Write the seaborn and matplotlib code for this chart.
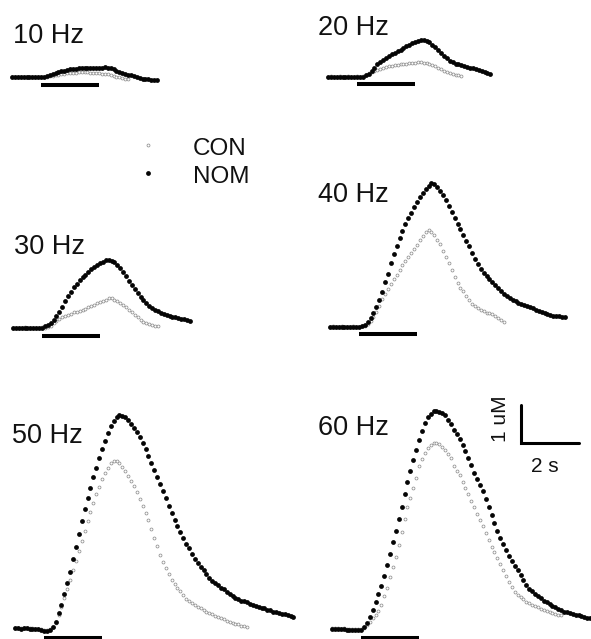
import numpy as np
import pandas as pd
import matplotlib
matplotlib.use('Agg')
import matplotlib.pyplot as plt
import seaborn as sns

# Sampling interval of the Ca2+ traces (s) and stimulus window (s)
DT = 0.1
STIM_ON, STIM_OFF = 1.0, 3.0

# Traces in uM above baseline, one value every DT seconds
nom_10 = [0.01, 0.00, 0.01, 0.00, 0.00, 0.01, 0.00, 0.00, 0.01, 0.00, 0.00, 0.01,
          0.02, 0.05, 0.08, 0.10, 0.13, 0.15, 0.17, 0.19, 0.20, 0.21, 0.22, 0.23, 0.23,
          0.24, 0.24, 0.24, 0.25, 0.25, 0.25, 0.25, 0.26, 0.25, 0.23, 0.20, 0.17, 0.14,
          0.11, 0.08, 0.06, 0.04, 0.02, 0.00, -0.02, -0.04, -0.05, -0.06, -0.07, -0.08, -0.08]
con_10 = [0.00, 0.01, 0.00, 0.00, 0.01, 0.00, 0.00, 0.01, 0.00, 0.00, 0.01, 0.00, 0.01,
          0.02, 0.03, 0.05, 0.06, 0.08, 0.09, 0.10, 0.10, 0.11, 0.11, 0.12, 0.12, 0.12,
          0.12, 0.11, 0.11, 0.11, 0.10, 0.09, 0.08, 0.07, 0.05, 0.03, 0.01, -0.01, -0.02,
          -0.04, -0.05]

nom_20 = [0.00, -0.01, 0.00, 0.00, -0.01, 0.00, 0.00, 0.01, 0.00, -0.01, 0.00, 0.00, 0.01,
          0.04, 0.09, 0.17, 0.25, 0.33, 0.39, 0.45, 0.51, 0.55, 0.60, 0.64, 0.68, 0.72,
          0.77, 0.81, 0.85, 0.89, 0.93, 0.96, 0.97, 0.97, 0.95, 0.91, 0.85, 0.78, 0.71,
          0.64, 0.56, 0.49, 0.43, 0.39, 0.35, 0.33, 0.31, 0.29, 0.27, 0.25, 0.23, 0.21,
          0.19, 0.16, 0.13, 0.10, 0.08]
con_20 = [0.01, 0.02, 0.01, 0.01, 0.02, 0.01, 0.01, 0.02, 0.01, 0.01, 0.02, 0.01, 0.02,
          0.06, 0.10, 0.13, 0.16, 0.19, 0.22, 0.24, 0.26, 0.28, 0.30, 0.31, 0.32, 0.33,
          0.34, 0.35, 0.36, 0.37, 0.38, 0.39, 0.39, 0.38, 0.36, 0.34, 0.31, 0.28, 0.25,
          0.21, 0.17, 0.14, 0.11, 0.08, 0.06, 0.04, 0.02]

nom_30 = [0.00, -0.01, 0.00, 0.01, 0.00, -0.01, 0.00, 0.00, -0.01, 0.00, 0.01,
          0.05, 0.09, 0.14, 0.21, 0.31, 0.43, 0.56, 0.70, 0.84, 0.96, 1.07, 1.17, 1.26,
          1.33, 1.40, 1.47, 1.54, 1.60, 1.66, 1.71, 1.75, 1.78, 1.79, 1.77, 1.73, 1.66,
          1.58, 1.48, 1.37, 1.25, 1.13, 1.02, 0.92, 0.82, 0.73, 0.66, 0.59, 0.53, 0.48,
          0.44, 0.40, 0.37, 0.34, 0.32, 0.30, 0.29, 0.27, 0.25, 0.23, 0.21, 0.19]
con_30 = [0.01, 0.01, 0.00, 0.01, 0.02, 0.01, 0.01, 0.00, 0.01, 0.01, 0.02, 0.01, 0.02,
          0.06, 0.12, 0.18, 0.24, 0.28, 0.32, 0.35, 0.38, 0.41, 0.43, 0.46, 0.48, 0.51,
          0.54, 0.57, 0.61, 0.65, 0.69, 0.72, 0.75, 0.78, 0.78, 0.75, 0.71, 0.66, 0.61,
          0.54, 0.48, 0.41, 0.34, 0.28, 0.22, 0.17, 0.14, 0.11, 0.08, 0.06, 0.04]

nom_40 = [0.00, 0.01, 0.00, 0.00, 0.01, 0.00, -0.01, 0.00, 0.01, 0.00, 0.01, 0.02,
          0.05, 0.12, 0.25, 0.36, 0.52, 0.72, 0.92, 1.18, 1.40, 1.68, 1.92, 2.14, 2.33,
          2.52, 2.70, 2.86, 3.00, 3.16, 3.29, 3.41, 3.52, 3.63, 3.72, 3.78, 3.76, 3.68,
          3.58, 3.48, 3.34, 3.19, 3.03, 2.87, 2.72, 2.57, 2.42, 2.27, 2.12, 1.96, 1.80,
          1.65, 1.53, 1.43, 1.34, 1.26, 1.18, 1.10, 1.02, 0.95, 0.88, 0.82, 0.77, 0.72,
          0.68, 0.64, 0.61, 0.58, 0.55, 0.52, 0.49, 0.46, 0.43, 0.40, 0.36, 0.34, 0.32,
          0.30, 0.29, 0.28, 0.27, 0.26]
con_40 = [0.01, 0.02, 0.01, 0.01, 0.02, 0.01, 0.00, 0.01, 0.02, 0.01, 0.01, 0.02, 0.03,
          0.08, 0.15, 0.26, 0.40, 0.56, 0.74, 0.88, 1.00, 1.13, 1.26, 1.38, 1.50, 1.62,
          1.73, 1.84, 1.95, 2.06, 2.17, 2.28, 2.40, 2.50, 2.55, 2.50, 2.42, 2.30, 2.18,
          2.00, 1.84, 1.68, 1.50, 1.32, 1.15, 1.02, 0.94, 0.82, 0.70, 0.61, 0.54, 0.49,
          0.45, 0.41, 0.38, 0.36, 0.33, 0.28, 0.23, 0.18, 0.14]

nom_50 = [0.02, 0.02, 0.01, 0.02, 0.02, 0.01, 0.01, 0.00, 0.00, -0.02, -0.04, -0.05, -0.03,
          0.06, 0.19, 0.41, 0.63, 0.92, 1.20, 1.51, 1.83, 2.17, 2.50, 2.85, 3.16, 3.44,
          3.72, 3.99, 4.25, 4.49, 4.73, 4.96, 5.15, 5.34, 5.48, 5.58, 5.63,
          5.61, 5.58, 5.51, 5.39, 5.29, 5.19, 5.04, 4.89, 4.73, 4.55, 4.36, 4.18, 4.00,
          3.82, 3.63, 3.44, 3.24, 3.04, 2.87, 2.72, 2.55, 2.39, 2.25, 2.12, 1.97, 1.85,
          1.75, 1.64, 1.54, 1.46, 1.35, 1.27, 1.22, 1.15, 1.09, 1.04, 0.98, 0.92, 0.87,
          0.82, 0.78, 0.75, 0.73, 0.71, 0.67, 0.63, 0.61, 0.58, 0.55, 0.54, 0.51, 0.49,
          0.46, 0.44, 0.42, 0.40, 0.39, 0.36, 0.33, 0.31]
con_50 = [0.03, 0.03, 0.02, 0.03, 0.03, 0.02, 0.02, 0.01, 0.01, 0.00, -0.02, -0.03, -0.01,
          0.05, 0.17, 0.36, 0.58, 0.82, 1.06, 1.30, 1.55, 1.80, 2.06, 2.32, 2.58, 2.84,
          3.09, 3.32, 3.54, 3.75, 3.94, 4.11, 4.25, 4.36, 4.42,
          4.43, 4.36, 4.27, 4.15, 4.02, 3.90, 3.76, 3.60, 3.42, 3.24, 3.06, 2.88, 2.62,
          2.40, 2.18, 1.96, 1.76, 1.60, 1.45, 1.30, 1.18, 1.08, 1.00, 0.90, 0.80, 0.73,
          0.68, 0.62, 0.58, 0.54, 0.50, 0.46, 0.43, 0.39, 0.35, 0.32, 0.29, 0.26, 0.22,
          0.19, 0.16, 0.14, 0.12, 0.09, 0.07, 0.05]

nom_60 = [0.00, 0.01, 0.00, -0.01, -0.01, -0.02, -0.02, -0.03, -0.03, -0.03, -0.02,
          0.06, 0.17, 0.32, 0.50, 0.70, 0.91, 1.14, 1.40, 1.69, 1.98, 2.28, 2.58, 2.90,
          3.22, 3.55, 3.86, 4.15, 4.45, 4.72, 4.98, 5.22, 5.42, 5.57, 5.67, 5.73, 5.75,
          5.72, 5.68, 5.62, 5.51, 5.40, 5.25, 5.12, 5.00, 4.84, 4.69, 4.49, 4.31, 4.11,
          3.95, 3.79, 3.62, 3.42, 3.22, 3.00, 2.78, 2.58, 2.40, 2.23, 2.07, 1.92, 1.79,
          1.67, 1.55, 1.42, 1.29, 1.17, 1.06, 0.99, 0.93, 0.87, 0.81, 0.75, 0.70, 0.65,
          0.60, 0.57, 0.53, 0.49, 0.46, 0.44, 0.41, 0.39, 0.37, 0.36, 0.34, 0.32, 0.30, 0.28]
con_60 = [0.02, 0.03, 0.02, 0.01, 0.02, 0.01, 0.00, 0.01, 0.00, 0.00, 0.01, 0.03,
          0.10, 0.18, 0.28, 0.38, 0.48, 0.64, 0.86, 1.09, 1.36, 1.64, 1.90, 2.20, 2.55,
          2.90, 3.20, 3.45, 3.70, 3.98, 4.28, 4.48, 4.64, 4.76, 4.84, 4.89, 4.89, 4.86,
          4.80, 4.70, 4.60, 4.50, 4.30, 4.16, 4.04, 3.86, 3.70, 3.55, 3.38, 3.20, 3.02,
          2.86, 2.70, 2.52, 2.34, 2.17, 2.02, 1.86, 1.70, 1.56, 1.40, 1.24, 1.10, 0.98,
          0.90, 0.84, 0.78, 0.72, 0.68, 0.64, 0.60, 0.57, 0.53, 0.50, 0.48, 0.45, 0.42,
          0.40, 0.38, 0.36]

freq_labels = ['10 Hz', '20 Hz', '30 Hz', '40 Hz', '50 Hz', '60 Hz']
nom_traces = [nom_10, nom_20, nom_30, nom_40, nom_50, nom_60]
con_traces = [con_10, con_20, con_30, con_40, con_50, con_60]

# Scale bar values
SCALE_UM = 1.0
SCALE_S = 2.0

# ---------------------------------------------------------------- layout
W, H = 591, 639
PX_S = 29.0    # pixels per second
PX_UM = 38.0   # pixels per uM
# per panel: trace start x, baseline y, label x, label baseline y, stim bar offset (px)
layout = [
    (12, 77, 13, 43, 8),
    (328, 77, 318, 35, 7),
    (13, 328, 14, 254, 8),
    (330, 327, 318, 202, 7),
    (15, 629, 12, 443, 9),
    (332, 629, 318, 435, 9),
]

NOM_KW = dict(s=12, color='#050505', linewidth=0)
CON_KW = dict(s=4.5, color='white', edgecolor='#8f8f8f', linewidth=0.55)

sns.set_style('white')
plt.rcParams['font.family'] = ['Liberation Sans', 'DejaVu Sans']

fig = plt.figure(figsize=(W / 100, H / 100), dpi=100)
fig.patch.set_facecolor('white')

LEFT_PAD, RIGHT_SPAN, BOTTOM_PAD, TOP_SPAN = 12, 300, 14, 254

axes = []
for (xs, yb, lx, ly, boff), nom, con in zip(layout, nom_traces, con_traces):
    ax = fig.add_axes([(xs - LEFT_PAD) / W, (H - (yb + BOTTOM_PAD)) / H,
                       RIGHT_SPAN / W, TOP_SPAN / H])
    ax.patch.set_alpha(0)
    ax.set_xlim(-LEFT_PAD / PX_S, (RIGHT_SPAN - LEFT_PAD) / PX_S)
    ax.set_ylim(-BOTTOM_PAD / PX_UM, (TOP_SPAN - BOTTOM_PAD) / PX_UM)
    ax.set_axis_off()

    df = pd.DataFrame({'t': np.arange(len(con)) * DT, 'ca': con})
    sns.scatterplot(data=df, x='t', y='ca', ax=ax, zorder=2, legend=False, **CON_KW)
    df = pd.DataFrame({'t': np.arange(len(nom)) * DT, 'ca': nom})
    sns.scatterplot(data=df, x='t', y='ca', ax=ax, zorder=3, legend=False, **NOM_KW)

    ax.plot([STIM_ON, STIM_OFF], [-boff / PX_UM] * 2, color='black', lw=2.9,
            solid_capstyle='butt', clip_on=False)
    axes.append(ax)

# scale bar in the 60 Hz panel's data units
ax60 = axes[5]
x0, y0 = 6.52, 4.89
ax60.plot([x0, x0, x0 + SCALE_S], [y0 + SCALE_UM, y0, y0], color='black',
          lw=2.2, solid_joinstyle='miter')

# overlay in pixel coordinates for labels and legend
ov = fig.add_axes([0, 0, 1, 1])
ov.patch.set_alpha(0)
ov.set_xlim(0, W)
ov.set_ylim(H, 0)
ov.set_axis_off()

for (xs, yb, lx, ly, boff), lab in zip(layout, freq_labels):
    ov.text(lx, ly, lab, fontsize=19.5, ha='left', va='baseline', color='#111111')

ov.text(500, 419, f'{SCALE_UM:g} uM', fontsize=15, rotation=90, ha='center',
        va='center', color='#111111')
ov.text(545, 472, f'{SCALE_S:g} s', fontsize=15, ha='center', va='baseline',
        color='#111111')

# legend
ov.scatter([148], [145], **CON_KW)
ov.scatter([148], [173], **NOM_KW)
ov.text(193, 155, 'CON', fontsize=17.5, ha='left', va='baseline', color='#111111')
ov.text(193, 183, 'NOM', fontsize=17.5, ha='left', va='baseline', color='#111111')

fig.savefig('out.png', dpi=100, facecolor='white')
